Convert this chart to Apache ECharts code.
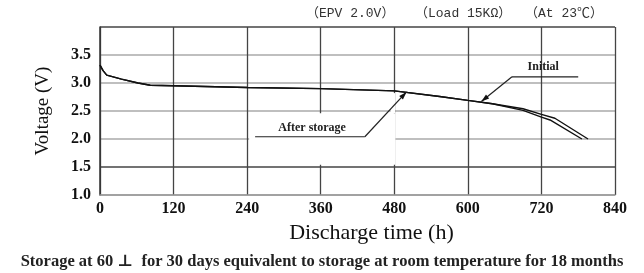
<!DOCTYPE html>
<html>
<head>
<meta charset="utf-8">
<script src="https://cdn.jsdelivr.net/npm/echarts@6/dist/echarts.min.js"></script>
<style>
  html, body { margin: 0; padding: 0; background: #fff; }
  #chart { width: 644px; height: 273px; }
</style>
</head>
<body>
<div id="chart"></div>
<script>
// discharge time (h) / voltage (V)
const initialHours = [0, 5, 11, 35, 62, 82, 120, 240, 360, 480, 554, 600, 640, 690, 720, 742, 796];
const initialVolts = [3.32, 3.22, 3.14, 3.07, 3.0, 2.96, 2.95, 2.92, 2.9, 2.86, 2.76, 2.69, 2.63, 2.54, 2.44, 2.37, 2.0];
const storedHours = [0, 5, 11, 35, 62, 82, 120, 240, 360, 480, 554, 600, 640, 690, 720, 734, 786];
const storedVolts = [3.32, 3.22, 3.14, 3.07, 3.0, 2.96, 2.95, 2.92, 2.9, 2.86, 2.76, 2.69, 2.63, 2.51, 2.39, 2.34, 2.0];

const xTicks = [0, 120, 240, 360, 480, 600, 720, 840];
const yTicks = [1.0, 1.5, 2.0, 2.5, 3.0, 3.5];

const serif = '"Liberation Serif", "DejaVu Serif", serif';
const mono = '"Liberation Mono", "Noto Sans CJK SC", monospace';

const chart = echarts.init(document.getElementById('chart'));

const option = {
  backgroundColor: '#fff',
  animation: false,
  grid: { left: 100, right: 29, top: 27, bottom: 78 },
  xAxis: {
    type: 'value',
    min: 0,
    max: 840,
    interval: 120,
    name: 'Discharge time (h)',
    nameLocation: 'middle',
    nameGap: 27,
    nameTextStyle: { fontFamily: serif, fontSize: 22, color: '#111', padding: [0, 0, 0, 28] },
    axisLine: { show: true, lineStyle: { color: '#999', width: 1.5 } },
    axisTick: { show: false },
    axisLabel: {
      fontFamily: serif, fontSize: 16, fontWeight: 'bold', color: '#111', margin: 6,
      formatter: v => xTicks.includes(v) ? String(v) : ''
    },
    splitLine: { show: true, lineStyle: { color: '#444', width: 1.3 } }
  },
  yAxis: {
    type: 'value',
    min: 1.0,
    max: 4.0,
    interval: 0.5,
    name: 'Voltage (V)',
    nameLocation: 'middle',
    nameGap: 47,
    nameRotate: 90,
    nameTextStyle: { fontFamily: serif, fontSize: 19, color: '#111' },
    axisLine: { show: true, lineStyle: { color: '#333', width: 1.5 } },
    axisTick: { show: false },
    axisLabel: {
      fontFamily: serif, fontSize: 16, fontWeight: 'bold', color: '#111', margin: 9,
      formatter: v => yTicks.some(t => Math.abs(t - v) < 1e-6) ? v.toFixed(1) : ''
    },
    splitLine: {
      show: true,
      lineStyle: {
        color: ['#aaa', '#444', '#aaa', '#aaa', '#aaa', '#aaa', '#444'],
        width: 1.5
      }
    }
  },
  series: [
    {
      name: 'Initial',
      type: 'line',
      data: initialHours.map((h, i) => [h, initialVolts[i]]),
      showSymbol: false,
      lineStyle: { color: '#111', width: 1.4 },
      z: 3
    },
    {
      name: 'After storage',
      type: 'line',
      data: storedHours.map((h, i) => [h, storedVolts[i]]),
      showSymbol: false,
      lineStyle: { color: '#111', width: 1.4 },
      z: 3
    }
  ]
};

chart.setOption(option);

// annotations placed in data coordinates
const px = p => chart.convertToPixel({ gridIndex: 0 }, p);

function leader(textPos, text, under0, under1, tip, diagFrom) {
  const t = px(textPos), a = px(under0), b = px(under1), c = px(tip), d = px(diagFrom);
  const ang = Math.atan2(c[1] - d[1], c[0] - d[0]);
  const L = 8, W = 2.5;
  const base = [c[0] - L * Math.cos(ang), c[1] - L * Math.sin(ang)];
  const head = [
    c,
    [base[0] + W * Math.sin(ang), base[1] - W * Math.cos(ang)],
    [base[0] - W * Math.sin(ang), base[1] + W * Math.cos(ang)]
  ];
  return [
    { type: 'polyline', z: 10, shape: { points: [a, b] }, style: { stroke: '#222', lineWidth: 1.2, fill: null } },
    { type: 'polyline', z: 10, shape: { points: [d, c] }, style: { stroke: '#222', lineWidth: 1.2, fill: null } },
    { type: 'polygon', z: 10, shape: { points: head }, style: { fill: '#111' } },
    {
      type: 'text', z: 10, x: t[0], y: t[1],
      style: { text: text, fontFamily: serif, fontSize: 12, fontWeight: 'bold', fill: '#222', align: 'center', verticalAlign: 'middle' }
    }
  ];
}

const maskA = px([240, 2.46]), maskB = px([477, 1.54]);
const maskC = px([474, 2.82]), maskD = px([478, 2.46]);

const headStyle = { fontFamily: mono, fontSize: 13, fill: '#333' };

const graphics = [
  { type: 'rect', z: 5, shape: { x: maskA[0] + 2, y: maskA[1], width: maskB[0] - maskA[0] + 1, height: maskB[1] - maskA[1] }, style: { fill: '#fff' } },
  { type: 'rect', z: 5, shape: { x: maskC[0], y: maskC[1], width: maskD[0] - maskC[0] + 2, height: maskD[1] - maskC[1] }, style: { fill: '#fff' } },
  ...leader([346, 2.2], 'After storage', [253, 2.04], [432, 2.04], [500, 2.84], [432, 2.04]),
  ...leader([723, 3.28], 'Initial', [672, 3.11], [780, 3.11], [622, 2.67], [672, 3.11]),
  { type: 'text', left: 306, top: 7, style: Object.assign({ text: '（EPV 2.0V）' }, headStyle) },
  { type: 'text', left: 415, top: 7, style: Object.assign({ text: '（Load 15KΩ）' }, headStyle) },
  { type: 'text', left: 525, top: 7, style: Object.assign({ text: '（At 23℃）' }, headStyle) },
  {
    type: 'text', left: 'center', top: 253,
    style: {
      text: 'Storage at 60 \u22a5  for 30 days equivalent to storage at room temperature for 18 months',
      fontFamily: serif, fontSize: 16.5, fontWeight: 'bold', fill: '#222'
    }
  }
];

chart.setOption({ graphic: graphics });
</script>
</body>
</html>
